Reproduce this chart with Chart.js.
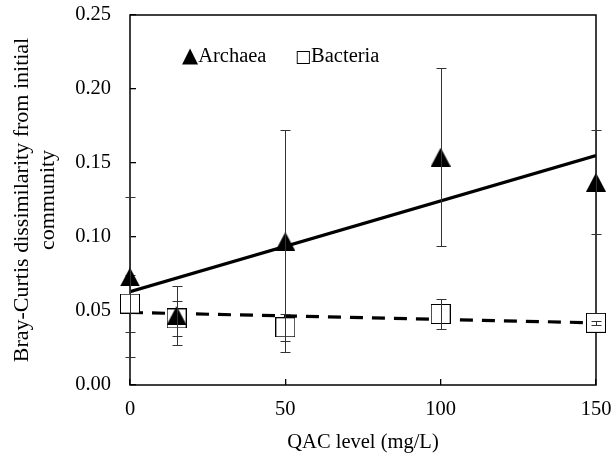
<!DOCTYPE html>
<html>
<head>
<meta charset="utf-8">
<title>Bray-Curtis dissimilarity vs QAC level</title>
<script src="https://cdn.jsdelivr.net/npm/chart.js@4.4.1/dist/chart.umd.min.js"></script>
<style>
    body { margin: 0; background: #fff; }
    #wrap { position: relative; width: 612px; height: 458px; }
    .legend {
        position: absolute;
        top: 45px;
        font-family: 'Liberation Serif', 'Times New Roman', serif;
        font-size: 20.5px;
        line-height: 20.5px;
        color: #000;
        white-space: nowrap;
    }
    .legend .sym { font-family: 'DejaVu Sans', sans-serif; font-size: 17px; }
    .legend .tri { font-size: 21px; }
</style>
</head>
<body>
<div id="wrap">
    <canvas id="dissimChart" width="612" height="458"></canvas>
    <div class="legend" style="left:182px"><span class="sym tri">▲</span>Archaea</div>
    <div class="legend" style="left:295px"><span class="sym">□</span>Bacteria</div>
</div>
<script>
// QAC dose levels (mg/L)
const qacLevels = [0, 15, 50, 100, 150];

// Bray-Curtis dissimilarity, mean and error
const archaeaMean = [0.073, 0.047, 0.097, 0.154, 0.137];
const archaeaErr = [0.054, 0.020, 0.075, 0.060, 0.035];
const bacteriaMean = [0.055, 0.045, 0.039, 0.048, 0.042];
const bacteriaErr = [0.019, 0.012, 0.009, 0.010, 0.0012];

// Linear trend lines (end points)
const trendX = [0, 150];
const archaeaTrend = [0.063, 0.155];
const bacteriaTrend = [0.049, 0.042];

const serif = "'Liberation Serif', 'Times New Roman', serif";

function toPoints(xs, ys) {
    return xs.map((x, i) => ({ x: x, y: ys[i] }));
}

// marker images so the shapes sit centred on the value
function triangleMarker() {
    const c = document.createElement('canvas');
    c.width = 20; c.height = 19;
    const g = c.getContext('2d');
    g.fillStyle = '#000';
    g.beginPath();
    g.moveTo(10, 0);
    g.lineTo(20, 19);
    g.lineTo(0, 19);
    g.closePath();
    g.fill();
    return c;
}

function squareMarker() {
    const c = document.createElement('canvas');
    c.width = 20; c.height = 20;
    const g = c.getContext('2d');
    g.fillStyle = '#fff';
    g.fillRect(0, 0, 20, 20);
    g.strokeStyle = '#000';
    g.lineWidth = 1;
    g.strokeRect(0.5, 0.5, 19, 19);
    return c;
}

// frame round the plot area
const framePlugin = {
    id: 'frame',
    beforeDatasetsDraw(chart) {
        const a = chart.chartArea;
        const ctx = chart.ctx;
        ctx.save();
        ctx.strokeStyle = '#000';
        ctx.lineWidth = 1.5;
        ctx.strokeRect(a.left, a.top, a.right - a.left, a.bottom - a.top);
        ctx.restore();
    }
};

// vertical error bars, drawn right after each point dataset
const errorBarPlugin = {
    id: 'errorBars',
    afterDatasetDraw(chart, args) {
        const ds = chart.data.datasets[args.index];
        if (!ds.errors) return;
        const xs = chart.scales.x, ys = chart.scales.y;
        const ctx = chart.ctx;
        ctx.save();
        ctx.strokeStyle = '#333';
        ctx.lineWidth = 1;
        ds.data.forEach((p, i) => {
            const e = ds.errors[i];
            const px = Math.round(xs.getPixelForValue(p.x)) + 0.5;
            const top = Math.round(ys.getPixelForValue(p.y + e)) + 0.5;
            const bot = Math.round(ys.getPixelForValue(p.y - e)) + 0.5;
            ctx.beginPath();
            ctx.moveTo(px, top); ctx.lineTo(px, bot);
            ctx.moveTo(px - 5, top); ctx.lineTo(px + 5, top);
            ctx.moveTo(px - 5, bot); ctx.lineTo(px + 5, bot);
            ctx.stroke();
        });
        ctx.restore();
    }
};

Chart.defaults.font.family = serif;
Chart.defaults.font.size = 20.5;
Chart.defaults.color = '#000';

const ctx = document.getElementById('dissimChart').getContext('2d');
new Chart(ctx, {
    type: 'scatter',
    data: {
        datasets: [{
            label: 'Archaea',
            data: toPoints(qacLevels, archaeaMean),
            errors: archaeaErr,
            pointStyle: triangleMarker(),
            showLine: false,
            clip: false
        }, {
            label: 'Bacteria',
            data: toPoints(qacLevels, bacteriaMean),
            errors: bacteriaErr,
            pointStyle: squareMarker(),
            showLine: false,
            clip: false
        }, {
            label: 'Archaea trend',
            data: toPoints(trendX, archaeaTrend),
            showLine: true,
            borderColor: '#000',
            borderWidth: 3.2,
            pointRadius: 0
        }, {
            label: 'Bacteria trend',
            data: toPoints(trendX, bacteriaTrend),
            showLine: true,
            borderColor: '#000',
            borderWidth: 3.2,
            borderDash: [13, 9],
            pointRadius: 0
        }]
    },
    options: {
        responsive: false,
        animation: false,
        layout: { padding: { top: 15, right: 16, left: 0, bottom: 0 } },
        plugins: {
            legend: { display: false },
            tooltip: { enabled: false }
        },
        scales: {
            x: {
                type: 'linear',
                min: 0,
                max: 150,
                ticks: { stepSize: 50, padding: 18 },
                grid: { drawOnChartArea: false, tickLength: -6, color: '#000', lineWidth: 1.3 },
                border: { display: false },
                title: {
                    display: true,
                    text: 'QAC level (mg/L)',
                    padding: { top: 0, bottom: 3 }
                },
                afterFit: s => {
                    s.height = 73;
                    s.paddingLeft = 0;
                    s.paddingRight = 0;
                }
            },
            y: {
                min: 0,
                max: 0.25,
                ticks: {
                    stepSize: 0.05,
                    padding: 25,
                    callback: v => v.toFixed(2)
                },
                grid: { drawOnChartArea: false, tickLength: -6, color: '#000', lineWidth: 1.3 },
                border: { display: false },
                title: {
                    display: true,
                    text: ['Bray-Curtis dissimilarity from initial', 'community'],
                    font: { size: 22, lineHeight: 1.15 },
                    padding: { top: 10, bottom: 0 }
                },
                afterFit: s => {
                    s.width = 130;
                    s.paddingTop = 0;
                    s.paddingBottom = 0;
                }
            }
        }
    },
    plugins: [framePlugin, errorBarPlugin]
});
</script>
</body>
</html>
